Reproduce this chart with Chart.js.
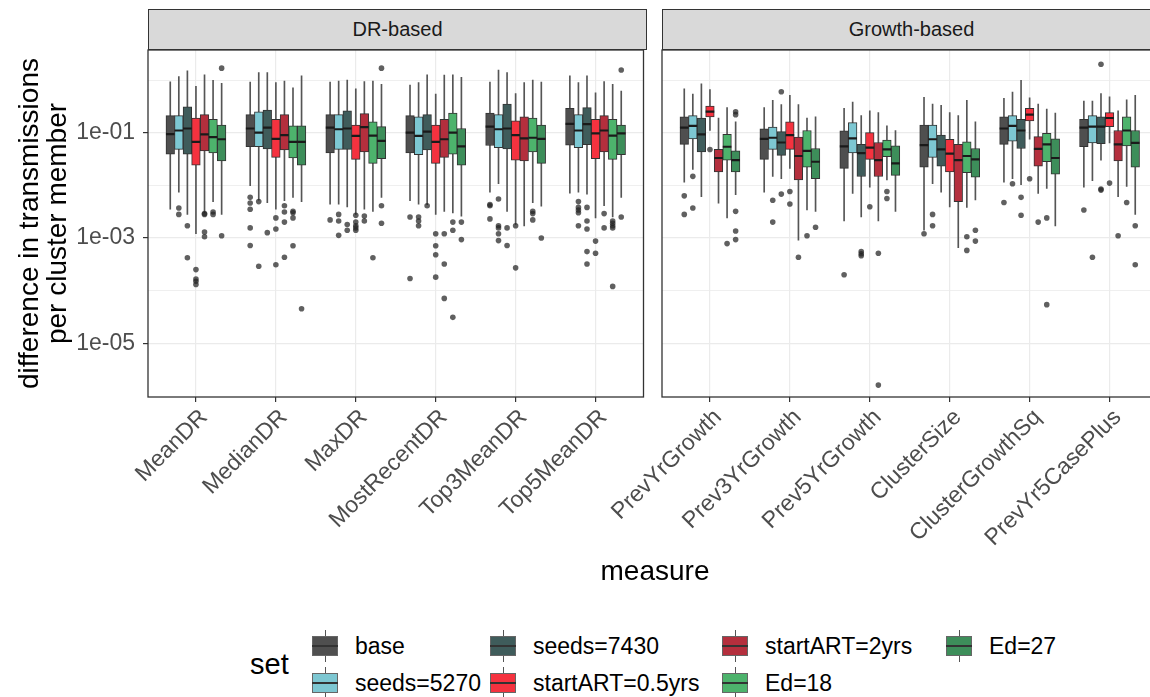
<!DOCTYPE html>
<html>
<head>
<meta charset="utf-8">
<script src="https://cdn.jsdelivr.net/npm/chart.js@4.4.1/dist/chart.umd.min.js"></script>
<style>
  html, body { margin: 0; padding: 0; background: #fff; overflow: hidden; width: 1150px; height: 697px; }
  body { position: relative; font-family: "Liberation Sans", Arial, Helvetica, sans-serif; }
  canvas { position: absolute; top: 0; }
  .strip { position: absolute; top: 9px; height: 41px; background: #d9d9d9; border: 1.3px solid #333;
           box-sizing: border-box; font-size: 20px; color: #1a1a1a; text-align: center; line-height: 38px; }
  .xtitle { position: absolute; left: 0; width: 1310px; top: 555px; text-align: center; font-size: 28px; color: #000; }
  .ltitle { position: absolute; left: 250px; top: 648px; font-size: 29px; color: #000; }
  .lkey { position: absolute; width: 26px; height: 32px; }
  .lkey .wh { position: absolute; left: 12.5px; top: 0; width: 1px; height: 32px; background: #555; }
  .lkey .bx { position: absolute; left: 0; top: 6px; width: 26px; height: 20px; box-sizing: border-box; border: 1px solid #666; }
  .lkey .md { position: absolute; left: 0; top: 15px; width: 26px; height: 2px; background: #333; }
  .ltext { position: absolute; font-size: 23px; color: #000; line-height: 26px; }
</style>
</head>
<body>
<canvas id="left" width="650" height="560" style="left:0"></canvas>
<canvas id="right" width="604" height="560" style="left:560px"></canvas>
<div class="strip" id="s0" style="left:148px;width:499px"></div>
<div class="strip" id="s1" style="left:662px;width:499px"></div>
<div class="xtitle">measure</div>
<div class="ltitle">set</div>
<div id="legend"></div>
<script>
const measures = ['MeanDR', 'MedianDR', 'MaxDR', 'MostRecentDR', 'Top3MeanDR', 'Top5MeanDR',
  'PrevYrGrowth', 'Prev3YrGrowth', 'Prev5YrGrowth', 'ClusterSize', 'ClusterGrowthSq', 'PrevYr5CasePlus'];
const facets = ['DR-based', 'Growth-based'];
const sets = ['base', 'seeds=5270', 'seeds=7430', 'startART=0.5yrs', 'startART=2yrs', 'Ed=18', 'Ed=27'];
const setColors = ['#4f4f4f', '#7dc7d2', '#3f5c5b', '#f5323f', '#b42f3d', '#4db36c', '#3d8e5a'];
const yTicks = [1e0, 1e-1, 1e-2, 1e-3, 1e-4, 1e-5];

// one row per measure, one value per set
const whiskerHigh = [
  [0.92, 1.16, 1.5, 0.76, 1.26, 0.99, 0.87],
  [0.91, 1.38, 1.38, 0.89, 0.95, 0.71, 1.2],
  [0.91, 0.95, 1.0, 0.68, 0.93, 0.95, 0.83],
  [0.8, 0.89, 1.26, 0.54, 1.24, 1.26, 1.12],
  [0.91, 1.55, 1.38, 0.55, 0.89, 1.0, 0.91],
  [1.2, 0.89, 1.2, 0.57, 0.93, 0.83, 0.62],
  [0.68, 0.54, 0.85, 0.66, 0.19, 0.30, 0.16],
  [0.30, 0.41, 0.34, 0.51, 0.34, 0.19, 0.20],
  [0.29, 0.38, 0.21, 0.26, 0.24, 0.135, 0.11],
  [0.47, 0.35, 0.33, 0.24, 0.21, 0.41, 0.16],
  [0.45, 0.59, 0.99, 0.46, 0.35, 0.28, 0.235],
  [0.40, 0.40, 0.55, 0.48, 0.26, 0.42, 0.51]
];
const q3 = [
  [0.21, 0.21, 0.31, 0.19, 0.22, 0.18, 0.14],
  [0.22, 0.25, 0.27, 0.18, 0.22, 0.135, 0.135],
  [0.22, 0.22, 0.26, 0.14, 0.23, 0.16, 0.13],
  [0.21, 0.20, 0.22, 0.14, 0.18, 0.235, 0.12],
  [0.235, 0.22, 0.35, 0.167, 0.20, 0.19, 0.14],
  [0.29, 0.22, 0.30, 0.18, 0.21, 0.18, 0.14],
  [0.20, 0.21, 0.19, 0.32, 0.048, 0.093, 0.045],
  [0.118, 0.127, 0.105, 0.16, 0.082, 0.11, 0.050],
  [0.108, 0.155, 0.06, 0.10, 0.065, 0.072, 0.056],
  [0.14, 0.14, 0.09, 0.075, 0.06, 0.067, 0.05],
  [0.20, 0.21, 0.18, 0.29, 0.084, 0.097, 0.076],
  [0.18, 0.21, 0.20, 0.24, 0.11, 0.20, 0.11]
];
const median = [
  [0.094, 0.11, 0.12, 0.067, 0.093, 0.082, 0.075],
  [0.12, 0.10, 0.125, 0.076, 0.09, 0.067, 0.067],
  [0.125, 0.116, 0.12, 0.087, 0.127, 0.088, 0.070],
  [0.1, 0.087, 0.105, 0.067, 0.075, 0.1, 0.055],
  [0.13, 0.116, 0.12, 0.09, 0.078, 0.08, 0.076],
  [0.147, 0.11, 0.145, 0.097, 0.11, 0.088, 0.097],
  [0.125, 0.135, 0.093, 0.25, 0.033, 0.054, 0.030],
  [0.076, 0.08, 0.065, 0.09, 0.036, 0.045, 0.028],
  [0.055, 0.078, 0.041, 0.052, 0.030, 0.048, 0.026],
  [0.058, 0.075, 0.048, 0.040, 0.03, 0.036, 0.031],
  [0.12, 0.135, 0.11, 0.22, 0.049, 0.06, 0.033],
  [0.125, 0.13, 0.13, 0.19, 0.06, 0.11, 0.064]
];
const q1 = [
  [0.039, 0.048, 0.039, 0.024, 0.045, 0.041, 0.029],
  [0.054, 0.054, 0.049, 0.034, 0.047, 0.033, 0.024],
  [0.041, 0.048, 0.048, 0.031, 0.043, 0.026, 0.032],
  [0.041, 0.038, 0.047, 0.026, 0.034, 0.039, 0.024],
  [0.057, 0.052, 0.049, 0.030, 0.029, 0.043, 0.026],
  [0.058, 0.052, 0.059, 0.032, 0.043, 0.031, 0.038],
  [0.06, 0.076, 0.043, 0.20, 0.018, 0.030, 0.018],
  [0.031, 0.048, 0.037, 0.048, 0.0127, 0.022, 0.0133],
  [0.021, 0.041, 0.0147, 0.031, 0.0147, 0.035, 0.0154],
  [0.022, 0.034, 0.023, 0.018, 0.0049, 0.0173, 0.0142],
  [0.06, 0.069, 0.05, 0.167, 0.023, 0.028, 0.0162],
  [0.054, 0.064, 0.062, 0.13, 0.029, 0.056, 0.022]
];
const whiskerLow = [
  [0.0035, 0.0074, 0.0028, 0.0012, 0.0030, 0.0049, 0.0028],
  [0.0098, 0.0052, 0.0047, 0.0035, 0.0051, 0.0059, 0.0049],
  [0.0044, 0.0044, 0.0039, 0.0028, 0.0035, 0.0032, 0.0059],
  [0.0051, 0.0044, 0.0043, 0.0028, 0.0032, 0.003, 0.0026],
  [0.0074, 0.0107, 0.0032, 0.0018, 0.0017, 0.0047, 0.0040],
  [0.0071, 0.0074, 0.0068, 0.0024, 0.0041, 0.0025, 0.0059],
  [0.0115, 0.020, 0.0061, 0.11, 0.0046, 0.0024, 0.0066],
  [0.0074, 0.0147, 0.0133, 0.021, 0.00091, 0.0034, 0.0032],
  [0.0021, 0.0070, 0.0025, 0.0092, 0.0021, 0.0127, 0.0032],
  [0.0014, 0.0107, 0.0074, 0.0039, 0.00065, 0.0038, 0.0053],
  [0.0115, 0.0133, 0.0103, 0.075, 0.0070, 0.0087, 0.0017],
  [0.0092, 0.0123, 0.030, 0.064, 0.0061, 0.0095, 0.0028]
];
// [measure index, set index, value]
const outliers = [
  [0,1,0.0037],[0,1,0.0028],[0,2,0.0017],[0,2,4.2e-4],[0,3,2.5e-4],[0,3,1.66e-4],[0,3,1.5e-4],[0,3,1.3e-4],
  [0,4,0.0029],[0,4,0.0028],[0,4,0.0013],[0,4,0.00105],[0,5,0.0031],[0,5,0.0028],[0,6,1.68],[0,6,0.0011],
  [1,0,0.0059],[1,0,0.0046],[1,0,0.0035],[1,0,0.00155],[1,0,7.2e-4],[1,1,0.0049],[1,1,2.9e-4],[1,2,0.00126],
  [1,3,0.0024],[1,3,0.00148],[1,3,3.1e-4],[1,4,0.0041],[1,4,0.0031],[1,4,0.0020],[1,4,4.3e-4],
  [1,5,0.0032],[1,5,0.0030],[1,5,0.0024],[1,5,7.1e-4],[1,6,4.5e-5],
  [2,0,0.0022],[2,1,0.0028],[2,1,0.0021],[2,1,0.00112],[2,2,0.0018],[2,2,0.0014],[2,3,0.0027],[2,3,0.0020],
  [2,3,0.0017],[2,3,0.00155],[2,3,0.0014],[2,4,0.0026],[2,4,0.0021],[2,5,4.2e-4],[2,6,1.68],[2,6,0.0041],[2,6,0.0019],
  [3,0,0.0025],[3,0,1.7e-4],[3,1,0.0025],[3,1,0.0021],[3,1,0.0017],[3,2,0.0041],[3,3,0.0012],[3,3,7.1e-4],
  [3,3,4.8e-4],[3,3,1.8e-4],[3,4,0.0012],[3,4,3.2e-4],[3,4,7.1e-5],[3,5,0.0020],[3,5,0.0014],[3,5,3.1e-5],
  [3,6,0.0020],[3,6,9.3e-4],
  [4,0,0.0043],[4,0,0.0041],[4,0,0.0023],[4,1,0.0055],[4,1,0.0017],[4,1,0.00155],[4,1,0.0012],[4,1,8.9e-4],
  [4,2,0.00155],[4,2,7.2e-4],[4,3,0.0017],[4,3,2.7e-4],[4,5,0.0032],[4,5,0.0029],[4,5,0.0022],[4,6,0.001],
  [5,1,0.0049],[5,1,0.0038],[5,1,0.0034],[5,1,0.0030],[5,1,0.0017],[5,2,0.0038],[5,2,0.0021],[5,2,0.00148],
  [5,2,5.5e-4],[5,2,3.2e-4],[5,3,8.7e-4],[5,3,5.1e-4],[5,4,0.0029],[5,4,0.00155],[5,5,0.0021],[5,5,0.0019],
  [5,5,0.0017],[5,5,0.00155],[5,5,1.2e-4],[5,6,1.55],[5,6,0.0025],
  [6,0,0.0063],[6,0,0.0028],[6,1,0.0148],[6,1,0.0037],[6,3,0.048],[6,5,7.8e-4],[6,6,0.25],[6,6,0.22],
  [6,6,0.0032],[6,6,0.00135],[6,6,9.3e-4],
  [7,1,0.0052],[7,1,0.0020],[7,2,0.6],[7,2,0.0068],[7,3,0.0076],[7,3,0.0044],[7,4,4.3e-4],[7,5,0.0011],[7,6,0.0016],
  [8,0,2.0e-4],[8,2,5.5e-4],[8,2,5.0e-4],[8,2,4.6e-4],[8,3,0.0039],[8,4,5.1e-4],[8,4,1.6e-6],[8,5,0.0076],[8,5,0.0056],
  [9,0,0.0012],[9,1,0.0028],[9,1,0.0017],[9,5,0.00105],[9,5,5.8e-4],[9,6,0.0014],[9,6,8.7e-4],
  [10,0,0.0047],[10,1,0.0107],[10,2,0.0059],[10,2,0.0027],[10,3,0.0133],[10,4,0.0020],[10,5,0.0024],[10,5,5.4e-5],
  [11,0,0.0034],[11,1,4.3e-4],[11,2,2.0],[11,2,0.0085],[11,2,0.0081],[11,3,0.011],[11,4,0.0011],[11,5,0.0047],
  [11,6,0.0017],[11,6,3.1e-4]
];

const dodge = j => (j - 3) * 0.75 / sets.length;
const decade = v => Math.round(-Math.log10(v));
const isMajor = v => decade(v) % 2 === 1;
const fontFamily = '"Liberation Sans", Arial, sans-serif';

// cadre du panneau (ggplot theme_bw)
const panelBorder = {
  id: 'panelBorder',
  afterDraw(chart) {
    const { ctx, chartArea: a } = chart;
    ctx.save();
    ctx.strokeStyle = '#333';
    ctx.lineWidth = 1.3;
    ctx.strokeRect(a.left, a.top, a.right - a.left, a.bottom - a.top);
    ctx.restore();
  }
};

function drawPanel(canvasId, first, showY, padLeft) {
  const idx = [0, 1, 2, 3, 4, 5];
  const datasets = [];
  sets.forEach((s, j) => {
    datasets.push({
      type: 'bar', label: s + ' whisker', order: 3, grouped: false, barThickness: 1,
      backgroundColor: '#555', borderWidth: 0,
      data: idx.map(i => ({ x: i + dodge(j), y: [whiskerLow[first + i][j], whiskerHigh[first + i][j]] }))
    });
    datasets.push({
      type: 'bar', label: s, order: 2, grouped: false, barThickness: 8.6,
      backgroundColor: setColors[j], borderColor: '#333', borderWidth: 1, borderSkipped: false,
      data: idx.map(i => ({ x: i + dodge(j), y: [q1[first + i][j], q3[first + i][j]] }))
    });
    datasets.push({
      type: 'scatter', label: s + ' median', order: 1,
      pointStyle: 'line', pointRadius: 4.3, pointBorderColor: '#1a1a1a', pointBorderWidth: 2.2,
      data: idx.map(i => ({ x: i + dodge(j), y: median[first + i][j] }))
    });
  });
  datasets.push({
    type: 'scatter', label: 'outliers', order: 0,
    pointRadius: 2.8, pointBackgroundColor: 'rgba(35,35,35,0.72)', pointBorderWidth: 0,
    data: outliers.filter(o => o[0] >= first && o[0] < first + 6)
      .map(o => ({ x: o[0] - first + dodge(o[1]), y: o[2] }))
  });

  return new Chart(document.getElementById(canvasId), {
    type: 'bar',
    data: { datasets },
    plugins: [panelBorder],
    options: {
      responsive: false,
      animation: false,
      events: [],
      layout: { padding: { top: 50, left: padLeft, right: 4, bottom: 0 } },
      plugins: { legend: { display: false }, tooltip: { enabled: false } },
      scales: {
        x: {
          type: 'linear', min: -0.6, max: 5.6, offset: false,
          afterBuildTicks: s => { s.ticks = idx.map(v => ({ value: v })); },
          afterFit: s => { s.height = 163; s.paddingLeft = 0; s.paddingRight = 0; },
          ticks: {
            autoSkip: false, minRotation: 45, maxRotation: 45, padding: 2, labelOffset: 8,
            color: '#4d4d4d', font: { size: 23, family: fontFamily },
            callback: v => measures[first + v]
          },
          grid: { offset: false, color: '#ebebeb', lineWidth: 1.2, tickColor: '#333', tickLength: 5, tickWidth: 1.2 },
          border: { display: false }
        },
        y: {
          type: 'logarithmic', min: 9.5e-7, max: 3.72,
          afterBuildTicks: s => { s.ticks = yTicks.map(v => ({ value: v })); },
          afterFit: s => { s.width = showY ? 148 : 0; },
          ticks: {
            display: showY, autoSkip: false, padding: 8,
            color: '#4d4d4d', font: { size: 23, family: fontFamily },
            callback: v => isMajor(v) ? '1e-' + String(decade(v)).padStart(2, '0') : ''
          },
          grid: {
            color: '#ebebeb',
            lineWidth: c => (c.tick && isMajor(c.tick.value)) ? 1.2 : 0.8,
            drawTicks: showY, tickLength: 5, tickWidth: 1.2,
            tickColor: c => (c.tick && isMajor(c.tick.value)) ? '#333' : 'rgba(0,0,0,0)'
          },
          border: { display: false },
          title: {
            display: showY,
            text: ['difference in transmissions', 'per cluster member'],
            color: '#000', padding: { top: 16 },
            font: { size: 28, lineHeight: 1.0, family: fontFamily }
          }
        }
      }
    }
  });
}

drawPanel('left', 0, true, 0);
drawPanel('right', 6, false, 102);

document.getElementById('s0').textContent = facets[0];
document.getElementById('s1').textContent = facets[1];

// legende en colonnes, comme ggplot
const keyX = [312, 490, 722, 946];
const rowY = [646, 683];
const legend = document.getElementById('legend');
sets.forEach((s, k) => {
  const col = Math.floor(k / 2), row = k % 2;
  const key = document.createElement('div');
  key.className = 'lkey';
  key.style.left = keyX[col] + 'px';
  key.style.top = (rowY[row] - 16) + 'px';
  key.innerHTML = '<div class="wh"></div><div class="bx" style="background:' + setColors[k] + '"></div><div class="md"></div>';
  legend.appendChild(key);
  const txt = document.createElement('div');
  txt.className = 'ltext';
  txt.style.left = (keyX[col] + 43) + 'px';
  txt.style.top = (rowY[row] - 13) + 'px';
  txt.textContent = s;
  legend.appendChild(txt);
});
</script>
</body>
</html>
